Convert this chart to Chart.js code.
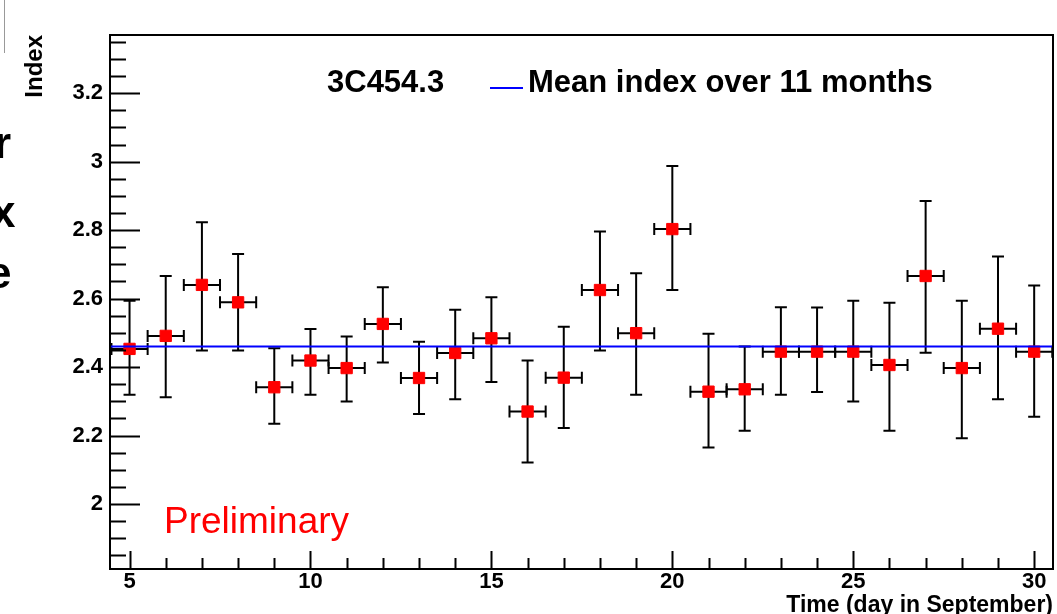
<!DOCTYPE html>
<html>
<head>
<meta charset="utf-8">
<script src="https://cdn.jsdelivr.net/npm/chart.js@4.4.1/dist/chart.umd.min.js"></script>
<style>
  html, body { margin: 0; padding: 0; background: #fff; }
  #wrap { position: relative; width: 1057px; height: 614px; overflow: hidden; }
  #indexChart { position: absolute; left: 0; top: 0; }
  #slideEdge { position: absolute; left: 4px; top: 0; width: 0; height: 53px; border-left: 1px solid #999; }
  #slideText { position: absolute; left: 0; top: 0; width: 16px; height: 320px; overflow: hidden; }
  #slideText span { position: absolute; font-family: "Liberation Sans", Arial, sans-serif; font-size: 44px; font-weight: bold; line-height: 1; color: #000; }
</style>
</head>
<body>
<div id="wrap">
  <!-- 5px wider than the window: the marker overflow margin Chart.js keeps on the right falls outside -->
  <canvas id="indexChart" width="1062" height="614"></canvas>
  <div id="slideEdge"></div>
  <div id="slideText">
    <span style="left:-6px; top:121px;">r</span>
    <span style="left:-9px; top:190px;">x</span>
    <span style="left:-13px; top:251px;">e</span>
  </div>
</div>
<script>
// --- Data ---
const days = [5, 6, 7, 8, 9, 10, 11, 12, 13, 14, 15, 16, 17, 18, 19, 20, 21, 22, 23, 24, 25, 26, 27, 28, 29, 30];
const indexValues = [2.453, 2.491, 2.640, 2.589, 2.341, 2.419, 2.397, 2.526, 2.368, 2.441, 2.484, 2.270, 2.369,
                     2.625, 2.499, 2.803, 2.328, 2.335, 2.445, 2.445, 2.445, 2.406, 2.666, 2.397, 2.512, 2.445];
const errHigh = [2.594, 2.666, 2.823, 2.730, 2.455, 2.511, 2.489, 2.633, 2.474, 2.567, 2.604, 2.419, 2.518,
                 2.796, 2.674, 2.987, 2.497, 2.460, 2.575, 2.574, 2.594, 2.588, 2.885, 2.594, 2.723, 2.638];
const errLow = [2.319, 2.312, 2.448, 2.448, 2.234, 2.319, 2.299, 2.413, 2.263, 2.306, 2.356, 2.121, 2.222,
                2.448, 2.319, 2.625, 2.165, 2.214, 2.319, 2.327, 2.299, 2.214, 2.442, 2.192, 2.306, 2.255];
const binHalfWidth = 0.5;
const meanIndex = 2.46;

const X_MIN = 4.46, X_MAX = 30.52;
const Y_MIN = 1.81, Y_MAX = 3.37;
const xTickValues = [5, 10, 15, 20, 25, 30];
const xTickLabels = ['5', '10', '15', '20', '25', '30'];
const yTickValues = [2, 2.2, 2.4, 2.6, 2.8, 3, 3.2];
const yTickLabels = ['2', '2.2', '2.4', '2.6', '2.8', '3', '3.2'];

const FONT = '"Liberation Sans", Arial, Helvetica, sans-serif';
Chart.defaults.font.family = FONT;
Chart.defaults.color = '#000';

// --- error bars, drawn under the markers ---
const errorBars = {
  id: 'errorBars',
  beforeDatasetsDraw(chart) {
    const { ctx, scales: { x, y } } = chart;
    const cap = 6;
    ctx.save();
    ctx.strokeStyle = '#000';
    ctx.lineWidth = 2;
    days.forEach((d, i) => {
      const px = x.getPixelForValue(d);
      const py = y.getPixelForValue(indexValues[i]);
      const top = y.getPixelForValue(errHigh[i]);
      const bot = y.getPixelForValue(errLow[i]);
      const l = x.getPixelForValue(d - binHalfWidth);
      const r = x.getPixelForValue(d + binHalfWidth);
      ctx.beginPath();
      ctx.moveTo(px, top); ctx.lineTo(px, bot);
      ctx.moveTo(px - cap, top); ctx.lineTo(px + cap, top);
      ctx.moveTo(px - cap, bot); ctx.lineTo(px + cap, bot);
      ctx.moveTo(l, py); ctx.lineTo(r, py);
      ctx.moveTo(l, py - cap); ctx.lineTo(l, py + cap);
      ctx.moveTo(r, py - cap); ctx.lineTo(r, py + cap);
      ctx.stroke();
    });
    ctx.restore();
  }
};

// --- ROOT style frame with inward ticks, legend and label ---
const rootFrame = {
  id: 'rootFrame',
  afterDatasetsDraw(chart) {
    const { ctx, chartArea: a, scales: { x, y } } = chart;
    ctx.save();
    ctx.strokeStyle = '#000';
    ctx.lineWidth = 2;
    ctx.strokeRect(a.left, a.top, a.right - a.left, a.bottom - a.top);

    ctx.beginPath();
    // y ticks every 0.05, long ones on labelled values
    for (let k = Math.ceil(Y_MIN * 20); k <= Math.floor(Y_MAX * 20); k++) {
      const v = k / 20;
      const py = Math.round(y.getPixelForValue(v)) + 0.5;
      const major = yTickValues.some(t => Math.abs(t - v) < 1e-6);
      ctx.moveTo(a.left, py);
      ctx.lineTo(a.left + (major ? 30 : 16), py);
    }
    // x ticks every day, long ones on labelled values
    for (let d = Math.ceil(X_MIN); d <= Math.floor(X_MAX); d++) {
      const px = Math.round(x.getPixelForValue(d)) + 0.5;
      const major = xTickValues.includes(d);
      ctx.moveTo(px, a.bottom);
      ctx.lineTo(px, a.bottom - (major ? 18 : 11));
    }
    ctx.stroke();
    ctx.restore();
  },
  afterDraw(chart) {
    const { ctx } = chart;
    ctx.save();
    ctx.textBaseline = 'alphabetic';
    ctx.textAlign = 'left';
    ctx.fillStyle = '#000';
    ctx.font = 'bold 31px ' + FONT;
    ctx.fillText('3C454.3', 327, 92);
    ctx.fillText('Mean index over 11 months', 528, 92);
    ctx.strokeStyle = '#0000ff';
    ctx.lineWidth = 2;
    ctx.beginPath();
    ctx.moveTo(490, 88);
    ctx.lineTo(523, 88);
    ctx.stroke();
    ctx.fillStyle = '#ff0000';
    ctx.font = '37px ' + FONT;
    ctx.fillText('Preliminary', 164, 533);
    ctx.restore();
  }
};

function initChart() {
  const ctx = document.getElementById('indexChart').getContext('2d');
  new Chart(ctx, {
    type: 'scatter',
    data: {
      datasets: [
        {
          label: 'Mean index over 11 months',
          data: [{ x: X_MIN, y: meanIndex }, { x: X_MAX, y: meanIndex }],
          showLine: true,
          borderColor: '#0000ff',
          borderWidth: 2,
          pointRadius: 0
        },
        {
          label: '3C454.3',
          data: days.map((d, i) => ({ x: d, y: indexValues[i] })),
          pointStyle: 'rect',
          pointRadius: 8,
          pointBackgroundColor: '#ff0000',
          pointBorderColor: '#ff0000',
          pointBorderWidth: 1
        }
      ]
    },
    options: {
      responsive: false,
      animation: false,
      events: [],
      layout: { padding: { left: 0, right: 4, top: 35, bottom: 0 } },
      plugins: { legend: { display: false }, tooltip: { enabled: false } },
      scales: {
        x: {
          type: 'linear',
          min: X_MIN,
          max: X_MAX,
          grid: { display: false, drawTicks: false },
          border: { display: false },
          afterBuildTicks: (scale) => { scale.ticks = xTickValues.map(v => ({ value: v })); },
          afterFit: (scale) => {
            scale.height = 45;
            scale.paddingLeft = 0;
            scale.paddingRight = 0;
          },
          ticks: {
            autoSkip: false,
            maxRotation: 0,
            padding: 0,
            font: { size: 22, weight: 'bold' },
            callback: (v) => xTickLabels[xTickValues.indexOf(v)]
          },
          title: {
            display: true,
            text: 'Time (day in September)',
            align: 'end',
            padding: 0,
            font: { size: 23, weight: 'bold', lineHeight: 0.7 }
          }
        },
        y: {
          type: 'linear',
          min: Y_MIN,
          max: Y_MAX,
          grid: { display: false, drawTicks: false },
          border: { display: false },
          afterBuildTicks: (scale) => { scale.ticks = yTickValues.map(v => ({ value: v })); },
          afterFit: (scale) => {
            scale.width = 110;
            scale.paddingTop = 0;
            scale.paddingBottom = 0;
          },
          ticks: {
            autoSkip: false,
            padding: 7,
            font: { size: 22, weight: 'bold' },
            callback: (v) => yTickLabels[yTickValues.findIndex(t => Math.abs(t - v) < 1e-6)]
          },
          title: {
            display: true,
            text: 'Index',
            align: 'end',
            padding: { top: 21, bottom: 0 },
            font: { size: 24, weight: 'bold' }
          }
        }
      }
    },
    plugins: [errorBars, rootFrame]
  });
}

window.onload = initChart;
</script>
</body>
</html>
